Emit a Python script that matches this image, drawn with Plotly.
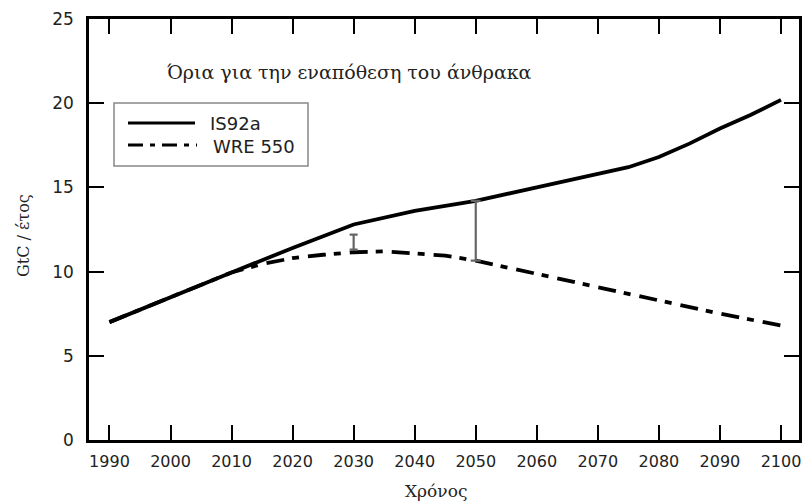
import plotly.graph_objects as go

# Carbon emission pathways (GtC per year)
years_is92a = [1990, 2000, 2010, 2020, 2030, 2040, 2050, 2060, 2070, 2075, 2080, 2085, 2090, 2095, 2100]
is92a = [7.0, 8.5, 9.95, 11.4, 12.8, 13.6, 14.2, 15.0, 15.8, 16.2, 16.8, 17.6, 18.5, 19.3, 20.2]

years_wre = [1990, 2000, 2010, 2015, 2020, 2025, 2030, 2035, 2040, 2045, 2050, 2055, 2060, 2070, 2080, 2090, 2100]
wre550 = [7.0, 8.5, 9.95, 10.45, 10.8, 11.0, 11.15, 11.2, 11.1, 10.95, 10.65, 10.25, 9.85, 9.05, 8.3, 7.5, 6.8]

# Reduction markers: year, lower and upper value
gap_year = 2050
gap_low = wre550[years_wre.index(gap_year)]
gap_high = is92a[years_is92a.index(gap_year)]
small_year = 2030
small_low = 11.3
small_high = 12.2

x_ticks = [1990, 2000, 2010, 2020, 2030, 2040, 2050, 2060, 2070, 2080, 2090, 2100]
y_ticks = [0, 5, 10, 15, 20, 25]

series_names = ["IS92a", "WRE 550"]
title_text = "Όρια για την εναπόθεση του άνθρακα"
x_title = "Χρόνος"
y_title = "GtC / έτος"

# Figure geometry (pixels)
W, H = 802, 503
ML, MR, MT, MB = 89, 3, 19, 63
PW, PH = W - ML - MR, H - MT - MB


def px(xp):
    return (xp - ML) / PW


def py(yp):
    return (H - MB - yp) / PH


DASHDOT = "18px,8px,7px,9px"

fig = go.Figure()
fig.add_trace(go.Scatter(x=years_is92a, y=is92a, mode="lines", name=series_names[0],
                         line=dict(color="black", width=3.8), showlegend=False))
fig.add_trace(go.Scatter(x=years_wre, y=wre550, mode="lines", name=series_names[1],
                         line=dict(color="black", width=3.8, dash=DASHDOT), showlegend=False))

for yr, lo, hi, cap in [(gap_year, gap_low, gap_high, 5), (small_year, small_low, small_high, 4)]:
    fig.add_trace(go.Scatter(
        x=[yr], y=[lo], mode="markers", showlegend=False,
        marker=dict(size=1, opacity=0),
        error_y=dict(type="data", symmetric=False, array=[hi - lo], arrayminus=[0],
                     color="#666", thickness=2.2, width=cap),
    ))

axis_common = dict(
    showline=True, linecolor="black", linewidth=2.5, mirror="ticks",
    ticks="inside", ticklen=15, tickwidth=2, tickcolor="black",
    showgrid=False, zeroline=False,
)

fig.update_xaxes(range=[1986.65, 2102.95], tickvals=x_ticks, ticklabelstandoff=5,
                 ticklabeloverflow="allow",
                 tickfont=dict(family="DejaVu Sans", size=16, color="#222"), **axis_common)
fig.update_yaxes(range=[0, 25], tickvals=y_ticks, ticklabelstandoff=9,
                 ticklabeloverflow="allow",
                 tickfont=dict(family="DejaVu Sans", size=17, color="#222"), **axis_common)

# Legend box drawn by hand so the line samples have full length
shapes = [
    dict(type="rect", xref="paper", yref="paper", x0=px(114), x1=px(308), y0=py(166), y1=py(103),
         line=dict(color="#888", width=1.5), fillcolor="white", layer="above"),
    dict(type="line", xref="paper", yref="paper", x0=px(128), x1=px(195), y0=py(123), y1=py(123),
         line=dict(color="black", width=3), layer="above"),
    dict(type="line", xref="paper", yref="paper", x0=px(128), x1=px(197), y0=py(145), y1=py(145),
         line=dict(color="black", width=3, dash="15px,7px,5px,7px"), layer="above"),
]

annotations = [
    dict(text=series_names[0], xref="paper", yref="paper", x=px(208), y=py(123),
         xanchor="left", yanchor="middle", showarrow=False,
         font=dict(family="DejaVu Sans", size=18, color="#222")),
    dict(text=series_names[1], xref="paper", yref="paper", x=px(211), y=py(146),
         xanchor="left", yanchor="middle", showarrow=False,
         font=dict(family="DejaVu Sans", size=18, color="#222")),
    dict(text=title_text, xref="paper", yref="paper", x=px(165), y=py(72),
         xanchor="left", yanchor="middle", showarrow=False,
         font=dict(family="DejaVu Serif", size=19, color="#222")),
    dict(text=x_title, xref="paper", yref="paper", x=px(436), y=py(491),
         xanchor="center", yanchor="middle", showarrow=False,
         font=dict(family="DejaVu Serif", size=17, color="#222")),
    dict(text=y_title, xref="paper", yref="paper", x=px(24), y=py(236), textangle=-90,
         xanchor="center", yanchor="middle", showarrow=False,
         font=dict(family="DejaVu Serif", size=16, color="#222")),
]

fig.update_layout(
    width=W, height=H,
    margin=dict(l=ML, r=MR, t=MT, b=MB, autoexpand=False),
    paper_bgcolor="white", plot_bgcolor="white",
    shapes=shapes, annotations=annotations, showlegend=False,
)

fig.write_html("out.html")
